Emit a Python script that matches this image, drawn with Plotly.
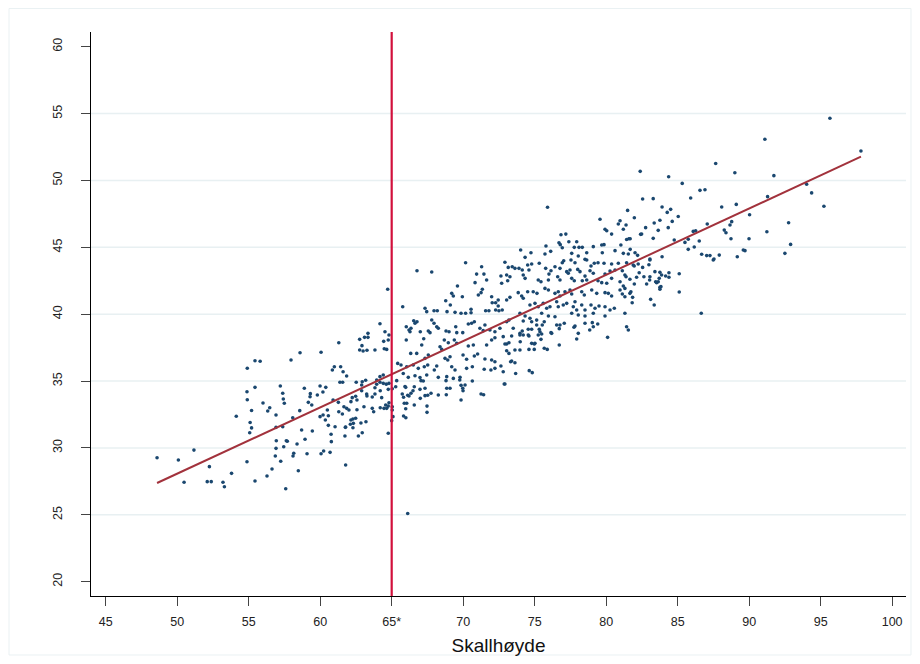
import plotly.graph_objects as go

# ---- data ----
x_vals = [
    # far left band
    55.44, 55.80, 54.90, 54.88, 55.44, 54.90, 56.00, 55.20, 54.13, 55.10, 55.20, 55.07, 48.59, 50.08, 51.17, 52.25,
    54.88, 53.80, 50.48, 52.10, 52.38, 53.20, 53.30, 55.44,
    # 56-64, upper
    64.18, 63.34, 63.10, 63.34, 62.76, 64.44, 61.30, 62.92, 62.76, 63.00, 63.27, 63.83, 64.48, 58.59, 60.06, 57.96,
    60.99, 61.43, 60.85, 61.60, 61.85, 61.38, 61.57, 62.52, 62.94, 63.18, 62.90, 63.95, 64.18, 64.41, 63.95, 64.18,
    64.41, 63.83, 64.20, 62.90, 57.21, 57.38, 58.89, 59.31, 59.99, 60.39, 60.19, 59.80, 63.25, 63.83,
    # 56-64, lower
    57.42, 57.49, 56.33, 56.47, 56.91, 58.57, 59.17, 59.41, 59.29, 58.08, 56.91, 57.38, 58.70, 59.45, 56.93, 57.70,
    57.63, 58.94, 58.38, 56.91, 57.45, 56.86, 58.15, 58.10, 59.08, 57.24, 56.63, 58.47, 56.28, 57.59, 60.06, 60.24,
    60.69, 61.78, 60.78, 60.76, 61.04, 60.57, 61.73, 61.76, 60.36, 59.99, 60.20, 60.57, 60.50, 60.90, 61.27, 61.30,
    61.55, 61.66, 61.85, 62.01, 62.15, 62.24, 62.48, 62.57, 62.57, 62.15, 62.29, 62.48, 62.11, 62.32, 62.29, 61.78,
    62.85, 63.20, 63.06, 63.27, 63.64, 63.64, 63.74, 64.20, 64.46, 64.30, 62.94, 62.67,
    # 64.5-73, upper
    64.72, 66.77, 67.80, 70.17, 71.29, 70.94, 71.45, 71.64, 72.64, 70.83, 72.69, 69.60, 71.34, 71.25, 69.20, 69.31,
    71.06, 71.99, 69.94, 72.45, 72.27, 72.03, 68.78, 69.10, 67.33, 67.45, 67.96, 68.19, 68.87, 69.43, 69.85, 70.17,
    70.55, 70.55, 65.77, 71.57, 71.80, 72.27, 72.50, 72.73, 72.45, 66.02, 66.21, 66.54, 66.77, 66.63, 66.35, 66.28,
    67.00, 67.80, 67.96, 67.56, 67.68, 68.15, 68.26, 68.80, 69.01, 69.48, 69.55, 70.36, 70.59, 70.78, 71.17, 71.40,
    71.52, 69.97, 71.87, 72.22, 72.57, 72.80, 64.53, 64.81, 64.76, 64.65, 66.02, 67.24, 67.10, 68.68, 68.96, 69.38,
    69.55, 68.38, 68.50, 70.36, 70.71, 71.64, 71.99, 72.22, 66.33, 66.75, 67.56, 67.33, 68.73, 68.92, 69.08, 69.99,
    70.24, 70.78, 71.01, 71.52, 71.99, 72.22, 65.42, 65.65, 66.05, 66.51, 66.86, 67.28, 67.52, 68.15, 67.98, 69.20,
    69.43, 70.24, 70.64, 71.47, 71.94, 72.22, 72.64, 72.80, 66.63, 66.98, 67.45, 68.26, 68.85, 69.31, 69.78, 65.81,
    66.16,
    # 64.5-73, lower
    64.62, 64.81, 64.58, 64.76, 65.04, 64.76, 65.04, 65.28, 64.65, 64.81, 65.04, 65.09, 65.00, 64.76, 65.35, 65.93,
    65.98, 65.74, 65.83, 66.12, 66.21, 66.35, 66.49, 66.58, 65.88, 66.05, 65.98, 66.58, 65.83, 65.99, 67.00, 66.98,
    67.33, 67.05, 67.21, 67.33, 67.52, 67.75, 67.47, 67.47, 68.26, 68.82, 68.85, 69.08, 68.80, 69.76, 69.85, 69.97,
    70.13, 69.99, 70.64, 69.85, 71.25, 71.43, 72.87, 66.12,
    # 73-81, upper
    75.90, 79.57, 80.97, 80.85, 79.92, 80.04, 80.38, 81.20, 77.18, 76.84, 76.70, 76.79, 77.39, 77.94, 76.93, 77.77,
    78.10, 78.33, 79.10, 79.69, 79.85, 81.03, 75.79, 74.02, 74.74, 75.72, 76.12, 74.33, 77.59, 78.05, 78.64, 79.73,
    80.62, 81.20, 72.92, 75.32, 74.79, 77.03, 76.93, 77.54, 77.82, 78.52, 78.64, 78.94, 79.17, 79.43, 79.85, 80.38,
    80.85, 73.15, 73.43, 73.62, 73.90, 74.13, 74.51, 74.60, 75.77, 76.14, 76.42, 76.77, 77.24, 77.47, 77.35, 78.01,
    78.17, 78.87, 79.10, 79.92, 80.27, 80.62, 81.13, 73.04, 73.27, 73.11, 74.20, 74.33, 75.25, 75.44, 76.00, 75.96,
    76.61, 76.77, 77.59, 77.77, 78.52, 78.64, 78.33, 79.43, 79.69, 80.04, 80.38, 80.97, 81.20, 73.85, 74.09, 74.20,
    74.51, 74.90, 75.16, 75.72, 75.96, 76.42, 76.65, 76.77, 77.12, 77.47, 77.59, 78.29, 78.47, 78.99, 79.34, 79.92,
    80.15, 80.38, 80.97, 81.13, 73.04, 73.27, 74.67, 75.02, 75.25, 75.60, 75.84, 76.07, 76.54, 76.65, 77.00, 77.24,
    77.70, 77.82, 77.94, 78.29, 78.52, 78.94, 79.22, 79.50, 79.92, 80.27, 80.57, 73.97, 74.33, 74.67, 75.49, 75.96,
    76.42, 77.59, 78.05, 78.52, 79.10, 79.92,
    # 73-81, lower
    73.04, 73.20, 74.20, 74.79, 75.14, 75.14, 75.53, 75.67, 76.54, 76.77, 77.07, 76.72, 77.82, 77.75, 78.52, 79.03,
    79.10, 79.41, 78.85, 75.32, 74.79, 74.55, 73.50, 74.13, 73.97, 74.20, 73.97, 74.60, 74.55, 73.39, 75.37, 75.49,
    75.25, 75.44, 76.14, 76.19, 78.05, 77.94, 80.10, 73.99, 73.04, 73.20, 72.92, 74.79, 74.97, 75.02, 76.72, 74.60,
    74.97, 75.67, 75.88, 73.62, 73.97, 73.04, 73.20, 73.39, 73.62, 73.32, 73.67, 74.62, 74.83, 72.92,
    # 81-90, upper
    87.66, 82.38, 84.37, 89.00, 85.32, 86.56, 86.91, 82.55, 83.29, 85.91, 81.50, 83.91, 84.27, 84.51, 88.08, 89.10,
    81.97, 85.04, 83.76, 83.36, 84.62, 81.39, 84.34, 82.76, 83.64, 87.07, 86.09, 86.26, 88.26, 88.38, 88.66, 88.78,
    82.41, 82.48, 83.29, 81.43, 81.59, 81.68, 84.76, 85.51, 85.74, 86.51, 88.73, 86.16, 85.74, 81.68, 81.55, 82.02,
    82.20, 83.06, 83.91, 86.68, 87.03, 87.26, 87.54, 87.91, 89.17, 89.59,
    # 81-90, lower
    81.43, 81.89, 81.96, 82.24, 82.55, 82.99, 83.06, 87.49, 81.31, 81.39, 81.66, 82.13, 82.31, 82.64, 83.06, 83.04,
    83.41, 83.76, 83.88, 84.16, 84.39, 84.39, 85.11, 83.71, 83.64, 83.53, 83.46, 81.97, 82.83, 83.76, 83.76, 83.83,
    81.31, 81.73, 81.66, 81.31, 81.85, 81.82, 85.11, 83.11, 83.36, 81.31, 86.65, 81.43, 81.55,
    # far right
    95.65, 91.10, 97.82, 91.73, 94.02, 94.37, 91.29, 95.23, 90.03, 92.76, 91.24, 89.99, 92.90, 92.50, 89.71,
]

y_vals = [
    36.52, 36.48, 35.96, 34.20, 34.53, 33.60, 33.36, 32.80, 32.37, 31.90, 31.50, 31.14, 29.27, 29.10, 29.84, 28.60,
    28.97, 28.10, 27.43, 27.48, 27.48, 27.43, 27.10, 27.53,
    39.29, 38.57, 38.27, 38.27, 38.12, 37.97, 37.87, 37.65, 37.32, 37.25, 37.30, 37.32, 37.42, 37.12, 37.15, 36.58,
    36.07, 36.07, 35.83, 35.70, 35.38, 34.91, 34.91, 34.91, 34.95, 35.06, 34.71, 35.08, 35.33, 35.45, 34.76, 34.91,
    34.83, 34.50, 34.28, 34.28, 34.63, 34.09, 34.46, 34.06, 34.63, 34.53, 34.18, 33.96, 34.03, 34.03,
    33.66, 33.34, 32.76, 33.01, 32.46, 32.79, 33.41, 33.21, 33.83, 32.26, 31.54, 31.59, 31.34, 31.27, 30.54, 30.50,
    30.54, 30.65, 30.30, 29.97, 30.09, 29.40, 29.60, 29.40, 29.57, 29.00, 28.43, 28.30, 27.90, 26.95, 29.57, 29.77,
    29.67, 28.73, 30.47, 31.02, 31.59, 31.69, 30.89, 31.54, 32.09, 32.34, 32.46, 32.41, 32.84, 33.58, 33.41, 32.71,
    32.54, 33.08, 32.96, 32.84, 33.46, 33.76, 33.86, 33.58, 32.86, 32.09, 32.16, 32.22, 31.77, 31.84, 31.51, 31.57,
    31.87, 31.96, 33.08, 33.88, 33.81, 32.96, 32.71, 33.01, 32.96, 33.76, 31.14, 30.89,
    41.86, 43.25, 43.15, 43.85, 43.55, 43.00, 43.00, 42.56, 42.86, 42.36, 42.31, 42.11, 41.86, 41.61, 41.56, 41.36,
    41.44, 41.31, 41.31, 41.06, 40.86, 40.86, 41.01, 40.69, 40.44, 40.19, 40.26, 40.26, 40.19, 40.14, 40.07, 40.07,
    40.37, 40.11, 40.56, 40.26, 40.26, 40.31, 40.26, 40.31, 40.61, 39.06, 38.82, 39.51, 39.44, 39.32, 38.95, 38.69,
    38.69, 39.57, 39.32, 38.74, 38.62, 39.06, 38.95, 38.74, 38.69, 39.06, 38.62, 39.27, 39.32, 39.44, 38.95, 38.77,
    39.19, 38.62, 38.82, 38.69, 38.95, 38.32, 38.69, 38.45, 38.07, 37.37, 38.07, 38.17, 37.70, 38.07, 37.87, 38.07,
    37.82, 37.57, 37.37, 37.62, 37.70, 37.70, 38.07, 38.24, 37.07, 37.07, 36.95, 36.70, 36.70, 36.58, 36.82, 36.95,
    36.63, 36.87, 37.02, 36.65, 36.58, 36.45, 36.32, 36.20, 36.07, 36.20, 35.95, 36.07, 36.20, 36.13, 35.83, 36.07,
    35.83, 35.95, 36.07, 35.88, 35.83, 35.95, 36.13, 35.70, 35.40, 35.27, 35.45, 35.28, 35.33, 35.20, 35.28, 35.57,
    35.28,
    34.77, 34.83, 33.21, 33.13, 33.08, 34.38, 34.43, 34.58, 32.96, 33.38, 32.84, 32.34, 32.04, 31.10, 35.03, 34.59,
    34.53, 34.03, 33.79, 33.94, 33.88, 34.09, 34.28, 34.58, 33.34, 33.34, 32.93, 33.21, 32.39, 32.26, 33.71, 34.38,
    34.46, 35.03, 35.00, 33.91, 33.94, 34.09, 33.13, 32.66, 33.96, 33.98, 34.46, 34.46, 35.03, 35.08, 34.68, 34.46,
    34.71, 34.28, 35.00, 33.59, 34.03, 33.98, 34.78, 25.10,
    48.00, 47.10, 46.99, 46.74, 46.35, 46.24, 45.99, 46.35, 45.99, 45.94, 45.34, 45.20, 45.42, 45.42, 44.97, 45.00,
    45.00, 45.00, 45.05, 45.17, 45.20, 45.17, 45.10, 44.80, 44.60, 44.50, 44.70, 44.25, 44.55, 44.35, 44.60, 44.60,
    44.75, 44.55, 43.88, 43.81, 43.75, 44.00, 43.85, 44.05, 43.85, 44.10, 44.05, 43.60, 43.81, 43.85, 43.81, 43.75,
    43.81, 43.50, 43.55, 43.43, 43.43, 43.30, 43.68, 43.30, 43.43, 43.25, 43.55, 43.43, 43.18, 43.30, 43.06, 43.35,
    43.18, 43.25, 43.06, 43.00, 43.23, 43.30, 43.25, 42.93, 42.80, 42.50, 42.93, 42.68, 42.56, 42.43, 43.00, 42.56,
    42.80, 42.56, 42.68, 42.50, 42.85, 42.56, 42.50, 42.50, 42.36, 42.31, 42.68, 42.43, 42.11, 41.61, 41.36, 41.19,
    41.68, 41.68, 41.56, 41.93, 41.81, 41.56, 41.68, 41.36, 41.68, 41.81, 41.51, 41.68, 41.44, 41.81, 41.56, 41.61,
    41.56, 41.36, 41.81, 41.51, 41.06, 41.26, 40.69, 40.81, 40.56, 40.81, 40.44, 40.56, 40.93, 40.56, 40.69, 40.81,
    40.56, 40.93, 40.31, 40.69, 40.31, 40.69, 40.44, 40.61, 40.56, 40.31, 40.44, 40.07, 39.87, 39.70, 40.07, 39.87,
    39.81, 40.07, 39.94, 39.87, 40.07, 39.87,
    39.44, 39.56, 39.49, 39.44, 39.56, 39.19, 39.19, 39.44, 39.19, 39.19, 39.32, 38.92, 39.11, 39.02, 39.32, 39.37,
    39.06, 39.27, 38.82, 38.87, 38.87, 38.87, 38.95, 38.74, 38.57, 38.45, 38.45, 38.37, 38.45, 38.37, 38.69, 38.52,
    38.45, 38.12, 38.62, 38.57, 38.57, 38.15, 38.27, 37.94, 37.77, 37.87, 37.77, 37.82, 37.77, 37.82, 37.70, 37.37,
    37.37, 37.45, 37.37, 37.32, 37.32, 37.27, 37.07, 36.50, 36.37, 36.45, 35.57, 35.78, 35.63, 34.78,
    51.27, 50.68, 50.28, 50.58, 49.78, 49.26, 49.31, 48.61, 48.64, 48.69, 47.76, 48.01, 47.61, 47.84, 48.01, 48.21,
    47.21, 47.31, 47.02, 46.82, 46.94, 46.67, 46.47, 46.47, 46.27, 46.74, 46.19, 46.24, 46.29, 46.09, 46.67, 46.92,
    45.97, 45.99, 45.67, 45.59, 45.64, 45.64, 45.55, 45.37, 45.60, 45.47, 45.64, 45.02, 44.85, 44.85, 44.50, 44.60,
    44.40, 44.13, 44.30, 44.48, 44.38, 44.38, 44.13, 44.42, 44.30, 44.80,
    43.85, 43.68, 43.60, 43.75, 43.50, 43.70, 44.05, 44.05, 42.93, 42.80, 42.61, 42.76, 43.10, 42.80, 42.80, 42.56,
    43.18, 43.13, 42.93, 42.86, 43.10, 42.76, 43.03, 42.68, 42.43, 42.36, 42.43, 42.26, 42.26, 42.01, 41.86, 42.06,
    41.93, 41.68, 41.56, 41.31, 41.26, 40.86, 41.66, 41.11, 40.69, 40.07, 40.07, 39.06, 38.82,
    54.65, 53.08, 52.20, 50.36, 49.72, 49.07, 48.79, 48.07, 47.44, 46.84, 46.17, 45.64, 45.22, 44.55, 44.75,
]

fit_x = [48.59, 97.82]          # fitted line endpoints
fit_y = [27.38, 51.78]
cut_x = 65                      # vertical reference line

x_ticks = [45, 50, 55, 60, 65, 70, 75, 80, 85, 90, 95, 100]
x_ticklabels = ["45", "50", "55", "60", "65*", "70", "75", "80", "85", "90", "95", "100"]
y_ticks = [20, 25, 30, 35, 40, 45, 50, 55, 60]
grid_y = [25, 30, 35, 40, 45, 50, 55]

n = min(len(x_vals), len(y_vals))
x_vals = x_vals[:n]
y_vals = y_vals[:n]

FONT = "Liberation Sans, Arial, Helvetica, sans-serif"

fig = go.Figure()
fig.add_trace(go.Scatter(
    x=x_vals, y=y_vals, mode="markers",
    marker=dict(color="#1a476f", size=3.6, line=dict(width=0)),
    hoverinfo="skip", showlegend=False,
))
fig.add_trace(go.Scatter(
    x=fit_x, y=fit_y, mode="lines",
    line=dict(color="#a2323c", width=2),
    hoverinfo="skip", showlegend=False,
))

shapes = []
for g in grid_y:
    shapes.append(dict(type="line", xref="paper", x0=0, x1=1, yref="y", y0=g, y1=g,
                       line=dict(color="#e8f0f2", width=1.5), layer="below"))
shapes.append(dict(type="line", xref="x", x0=cut_x, x1=cut_x, yref="paper", y0=0, y1=1,
                   line=dict(color="#d2103c", width=2.2), layer="above"))
# faint outer frame of the graph region
shapes.append(dict(type="rect", xref="paper", yref="paper",
                   x0=-0.1006, x1=1.0061, y0=-0.1046, y1=1.0417,
                   line=dict(color="#eaf1f3", width=1), layer="below"))

fig.update_layout(
    width=904, height=648,
    margin=dict(l=83, r=6, t=24, b=60, autoexpand=False),
    paper_bgcolor="white", plot_bgcolor="white",
    font=dict(family=FONT, color="#222222"),
    shapes=shapes,
    showlegend=False,
    xaxis=dict(
        range=[43.97, 100.97], tickmode="array", tickvals=x_ticks, ticktext=x_ticklabels,
        showgrid=False, zeroline=False, showline=True, linecolor="black", linewidth=1,
        ticks="outside", ticklen=9, tickcolor="#444444", tickwidth=1,
        ticklabelstandoff=5, automargin=False,
        tickfont=dict(size=12.5, family=FONT, color="#222222"),
        title=dict(text="Skallhøyde", font=dict(size=19, family=FONT, color="#111111"), standoff=19),
    ),
    yaxis=dict(
        range=[18.93, 61.1], tickmode="array", tickvals=y_ticks,
        showgrid=False, zeroline=False, showline=True, linecolor="black", linewidth=1,
        ticks="outside", ticklen=9, tickcolor="#444444", tickwidth=1, tickangle=-90,
        ticklabelstandoff=14, automargin=False,
        tickfont=dict(size=12.5, family=FONT, color="#222222"),
    ),
)

fig.write_html("out.html")
